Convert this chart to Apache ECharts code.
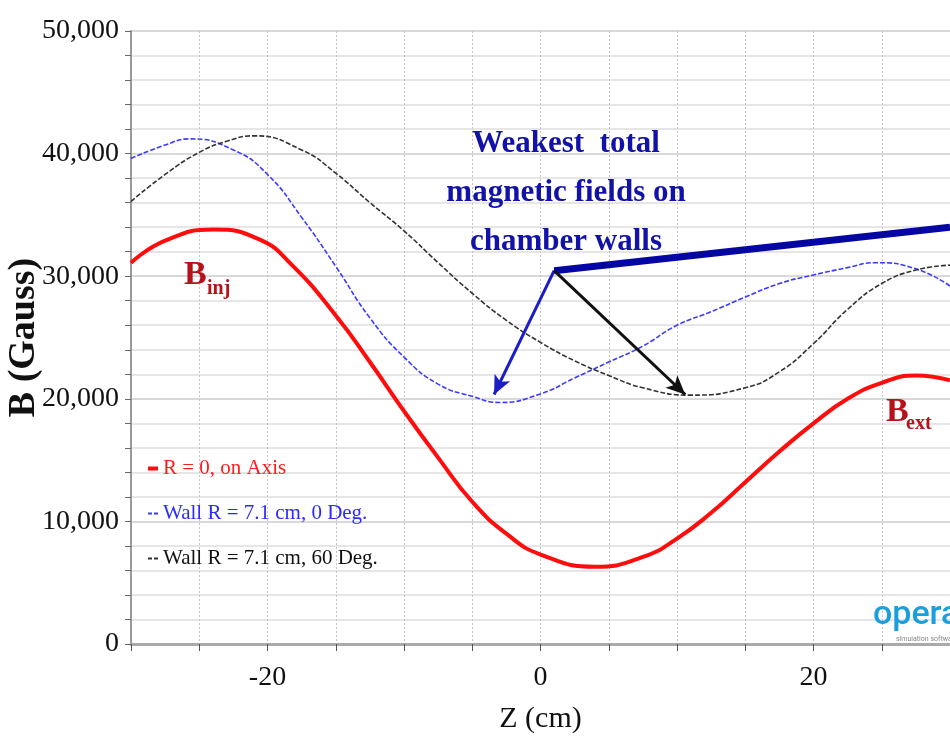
<!DOCTYPE html>
<html>
<head>
<meta charset="utf-8">
<script src="https://cdn.jsdelivr.net/npm/echarts@6/dist/echarts.min.js"></script>
<style>
html, body { margin: 0; padding: 0; background: #fff; }
#chart { width: 950px; height: 736px; }
</style>
</head>
<body>
<div id="chart"></div>
<script>
// Z positions (cm) and field values (Gauss), one pair of arrays per curve
var axisZ = [-30, -27.5, -24, -20.6, -18.2, -15, -12.5, -10, -7.5, -5, -2.5, 0, 4,
    7.5, 10, 12.5, 15, 17.5, 20, 22.5, 25, 27.5, 30];
var axisB = [31100, 32900, 33800, 33000, 30900, 26800, 23000, 19000, 15200, 11600, 9000, 7300, 6300,
    7100, 8600, 10700, 13200, 15700, 18000, 20000, 21300, 21900, 21500];

var wall0Z = [-30, -27.5, -25.7, -22.5, -20, -17.5, -15, -12.5, -10, -7.5, -5, -3, 0,
    2.5, 5, 7.5, 10, 12.5, 15, 17.5, 20, 22.5, 24.5, 27.5, 30];
var wall0B = [39600, 40700, 41200, 40300, 38300, 34800, 30800, 26600, 23400, 21200, 20200, 19700, 20400,
    21700, 23000, 24300, 26000, 27100, 28300, 29400, 30100, 30700, 31100, 30600, 29200];

var wall60Z = [-30, -27.5, -25, -23, -21, -17.5, -15, -12.5, -10, -7.5, -5, -2.5, 0,
    2.5, 5, 7.5, 11, 15, 17.5, 20, 22.5, 25, 27.5, 30];
var wall60B = [36100, 38300, 40100, 41000, 41450, 40300, 38400, 36000, 33700, 31100, 28600, 26400, 24600,
    23100, 21900, 20900, 20300, 20900, 22200, 24500, 27300, 29400, 30500, 30900];

var seriesNames = ['R = 0, on Axis', 'Wall R = 7.1 cm, 0 Deg.', 'Wall R = 7.1 cm, 60 Deg.'];
var xLabelValues = [-20, 0, 20];

// annotation anchor points, in data coordinates [z, B]
var pointerStart = [1.0, 30450];
var pointerBarEnd = [30, 34000];
var pointerWall0 = [-3.4, 20350];
var pointerWall60 = [10.6, 20350];

function pairs(xs, ys) {
    return xs.map(function (z, i) { return [z, ys[i]]; });
}

var serif = '"Liberation Serif", "Times New Roman", serif';
var dashIcon = 'path://M0,0h4v2h-4z M6,0h4v2h-4z';
var chart = echarts.init(document.getElementById('chart'));

var option = {
    animation: false,
    backgroundColor: '#fff',
    grid: { left: 131, right: 0, top: 31, bottom: 92, containLabel: false, outerBoundsMode: 'none' },
    xAxis: {
        type: 'value',
        min: -30,
        max: 30,
        interval: 5,
        name: 'Z (cm)',
        nameLocation: 'middle',
        nameGap: 60,
        nameMoveOverlap: false,
        nameTextStyle: { fontFamily: serif, fontSize: 30, color: '#111' },
        axisLine: { show: true, onZero: false, lineStyle: { color: '#aaa', width: 3 } },
        axisTick: { show: true, length: 7, lineStyle: { color: '#555' } },
        axisLabel: {
            fontFamily: serif, fontSize: 28, color: '#111', margin: 20,
            formatter: function (v) { return xLabelValues.indexOf(v) >= 0 ? String(v) : ''; }
        },
        splitLine: { show: true, lineStyle: { color: '#c4c4c4', type: [2, 2], width: 1 } }
    },
    yAxis: {
        type: 'value',
        min: 0,
        max: 50000,
        interval: 10000,
        name: 'B (Gauss)',
        nameLocation: 'middle',
        nameGap: 88,
        nameMoveOverlap: false,
        nameTextStyle: { fontFamily: serif, fontSize: 38, fontWeight: 'bold', color: '#111' },
        axisLine: { show: true, onZero: false, lineStyle: { color: '#999', width: 2 } },
        axisTick: { show: true, length: 6, lineStyle: { color: '#666' } },
        minorTick: { show: true, splitNumber: 5, length: 6, lineStyle: { color: '#666' } },
        axisLabel: {
            fontFamily: serif, fontSize: 28, color: '#111', margin: 12,
            formatter: function (v) { return v.toLocaleString('en-US'); }
        },
        splitLine: { show: true, lineStyle: { color: '#cdcdcd', width: 1.5 } },
        minorSplitLine: { show: true, lineStyle: { color: '#dedede', width: 1.5 } }
    },
    legend: {
        orient: 'vertical',
        left: 143,
        top: 451,
        itemWidth: 10,
        itemHeight: 4,
        itemGap: 20,
        textStyle: { fontFamily: serif, fontSize: 21, lineHeight: 25 },
        data: [
            { name: seriesNames[0], icon: 'rect', textStyle: { color: '#ff1c1c' } },
            { name: seriesNames[1], icon: dashIcon, textStyle: { color: '#2b2bff' } },
            { name: seriesNames[2], icon: dashIcon, textStyle: { color: '#111' } }
        ]
    },
    series: [
        {
            name: seriesNames[0],
            type: 'line',
            data: pairs(axisZ, axisB),
            smooth: 0.5,
            showSymbol: false,
            symbol: 'none',
            color: '#ff0d0d',
            lineStyle: { color: '#ff0d0d', width: 4 },
            z: 4
        },
        {
            name: seriesNames[1],
            type: 'line',
            data: pairs(wall0Z, wall0B),
            smooth: 0.5,
            showSymbol: false,
            symbol: 'none',
            color: '#3b3bff',
            lineStyle: { color: '#3b3bff', width: 1.6, type: [5, 2] },
            z: 3
        },
        {
            name: seriesNames[2],
            type: 'line',
            data: pairs(wall60Z, wall60B),
            smooth: 0.5,
            showSymbol: false,
            symbol: 'none',
            color: '#333',
            lineStyle: { color: '#333', width: 1.6, type: [5, 2] },
            z: 3
        },
        {
            name: 'pointers',
            type: 'line',
            data: [],
            z: 5,
            markLine: {
                silent: true,
                animation: false,
                label: { show: false },
                data: [
                    [
                        { coord: pointerStart, symbol: 'none', lineStyle: { color: '#0606a3', width: 7, type: 'solid' } },
                        { coord: pointerBarEnd, symbol: 'none' }
                    ],
                    [
                        { coord: pointerStart, symbol: 'none', lineStyle: { color: '#1d1dc4', width: 3, type: 'solid' } },
                        { coord: pointerWall0, symbol: 'arrow', symbolSize: [13, 19] }
                    ],
                    [
                        { coord: pointerStart, symbol: 'none', lineStyle: { color: '#111', width: 3, type: 'solid' } },
                        { coord: pointerWall60, symbol: 'arrow', symbolSize: [13, 19] }
                    ]
                ]
            }
        }
    ],
    graphic: [
        {
            type: 'text', z: 100,
            style: {
                x: 566, y: 119, text: 'Weakest  total\nmagnetic fields on\nchamber walls',
                align: 'center', verticalAlign: 'top', lineHeight: 49,
                font: 'bold 31px ' + serif, fill: '#1212a8'
            }
        },
        {
            type: 'text', z: 100,
            style: { x: 184, y: 258, text: 'B', verticalAlign: 'top', font: 'bold 34px ' + serif, fill: '#b5121b' }
        },
        {
            type: 'text', z: 100,
            style: { x: 207, y: 279, text: 'inj', verticalAlign: 'top', font: 'bold 20px ' + serif, fill: '#b5121b' }
        },
        {
            type: 'text', z: 100,
            style: { x: 886, y: 395, text: 'B', verticalAlign: 'top', font: 'bold 34px ' + serif, fill: '#b5121b' }
        },
        {
            type: 'text', z: 100,
            style: { x: 906, y: 414, text: 'ext', verticalAlign: 'top', font: 'bold 20px ' + serif, fill: '#b5121b' }
        },
        {
            type: 'text', z: 100,
            style: { x: 873, y: 598, text: 'opera', verticalAlign: 'top', font: '500 34px Roboto, "Open Sans", sans-serif', fill: '#1a9fdc' }
        },
        {
            type: 'text', z: 100,
            style: { x: 896, y: 636, text: 'simulation software', verticalAlign: 'top', font: '7px Roboto, sans-serif', fill: '#888' }
        }
    ]
};

chart.setOption(option);
</script>
</body>
</html>
